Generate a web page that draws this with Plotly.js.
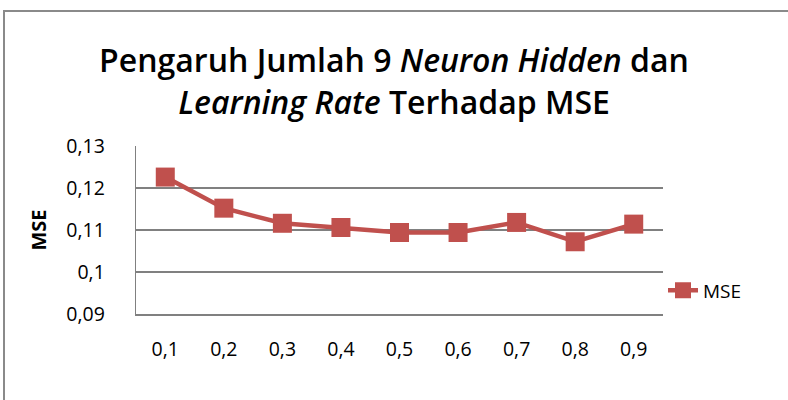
<!DOCTYPE html>
<html>
<head>
<meta charset="utf-8">
<script src="https://cdn.plot.ly/plotly-3.0.1.min.js"></script>
<style>
  html, body { margin: 0; padding: 0; background: #ffffff; }
  #frame { position: absolute; left: 3px; top: 10px; width: 800px; height: 400px; border-left: 2px solid #8a8a8a; border-top: 2px solid #8a8a8a; }
  #chart { position: absolute; left: 0; top: 0; width: 788px; height: 400px; }
</style>
</head>
<body>
<div id="frame"></div>
<div id="chart"></div>
<script>
// Data
var learningRates = ["0,1", "0,2", "0,3", "0,4", "0,5", "0,6", "0,7", "0,8", "0,9"];
var mseValues = [0.1226, 0.1152, 0.1116, 0.1106, 0.1094, 0.1094, 0.1118, 0.1072, 0.1114];
var yTicks = [0.09, 0.10, 0.11, 0.12, 0.13];
var seriesName = "MSE";

var FONT = "Open Sans, Liberation Sans, sans-serif";
var RED = "#C0504D";

var trace = {
  x: learningRates,
  y: mseValues,
  type: "scatter",
  mode: "lines+markers",
  name: seriesName,
  line: { color: RED, width: 4.5 },
  marker: { symbol: "square", size: 19, color: RED }
};

var layout = {
  width: 788,
  height: 400,
  margin: { l: 136, r: 125, t: 146, b: 86 },
  paper_bgcolor: "rgba(0,0,0,0)",
  plot_bgcolor: "#ffffff",
  separators: ",.",
  font: { family: FONT, color: "#000000", size: 19 },
  title: {
    text: "Pengaruh Jumlah 9 <i>Neuron Hidden</i> dan<br><i>Learning Rate</i> Terhadap MSE",
    font: { family: FONT, size: 32, color: "#000000", weight: 600 },
    x: 0.5,
    xanchor: "center",
    y: 0.82,
    yanchor: "bottom",
    yref: "container"
  },
  xaxis: {
    type: "category",
    range: [-0.5, 8.5],
    showgrid: false,
    showline: true,
    linecolor: "#808080",
    linewidth: 2,
    ticks: "",
    ticklabelstandoff: 17,
    tickfont: { family: FONT, size: 19.5, color: "#000000" },
    fixedrange: true
  },
  yaxis: {
    range: [0.09, 0.13],
    tickvals: yTicks,
    showgrid: true,
    gridcolor: "#808080",
    gridwidth: 1.3,
    showline: true,
    linecolor: "#808080",
    linewidth: 1.3,
    zeroline: false,
    ticks: "",
    ticklabelstandoff: 26,
    tickfont: { family: FONT, size: 19.5, color: "#000000" },
    title: { text: "<b>MSE</b>", font: { family: FONT, size: 20, color: "#000000" }, standoff: 14 },
    fixedrange: true
  },
  showlegend: true,
  legend: {
    x: 1.0,
    xanchor: "left",
    y: 0.14,
    yanchor: "middle",
    bgcolor: "rgba(0,0,0,0)",
    font: { family: FONT, size: 19, color: "#000000" }
  }
};

Plotly.newPlot("chart", [trace], layout, { staticPlot: true, displayModeBar: false });
</script>
</body>
</html>
